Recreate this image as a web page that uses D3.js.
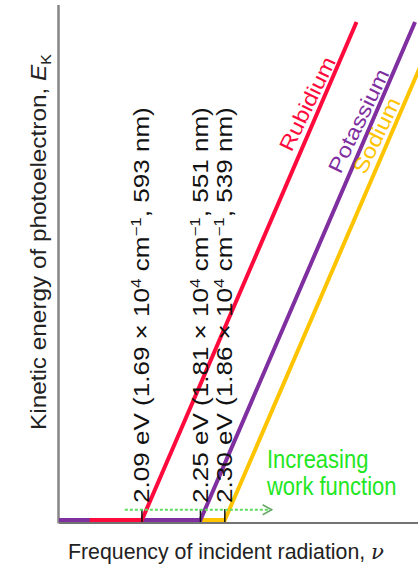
<!DOCTYPE html>
<html>
<head>
<meta charset="utf-8">
<script src="https://cdn.jsdelivr.net/npm/d3@7"></script>
<style>
  body { margin: 0; background: #fff; }
  text { font-family: "Liberation Sans", Arial, Helvetica, sans-serif; }
</style>
</head>
<body>
<svg id="chart" width="418" height="568"></svg>
<script>
// Photoelectric effect: kinetic energy of the emitted electron vs. frequency of the light
const metals = ["Rubidium", "Potassium", "Sodium"];
const workFunctionEV = [2.09, 2.25, 2.30];          // eV
const thresholdWavenumber = [1.69, 1.81, 1.86];     // 10^4 cm^-1
const thresholdNm = [593, 551, 539];                // nm
const baselineStart = [1.583, 1.52, 1.52];          // where each trace begins on the axis (10^4 cm^-1)
const topEnergy = [0.44, 0.44, 0.44];               // kinetic energy at the upper end of each line (10^4 cm^-1)
const xDomain = [1.52, 2.256];
const yDomain = [0, 0.455];
const arrowSpan = [1.655, 1.956];                   // "increasing work function" arrow, frequency units
const arrowEnergy = 0.009;

const colors = ["#ff0a3c", "#7f2f9f", "#ffc400"];

const svg = d3.select("#chart");
const W = 418, H = 568;
const plot = { left: 59, right: 418, top: 5, bottom: 520 };

const x = d3.scaleLinear().domain(xDomain).range([plot.left, plot.right]);
const y = d3.scaleLinear().domain(yDomain).range([plot.bottom, plot.top]);

// axes
svg.append("line")
  .attr("x1", plot.left).attr("x2", W)
  .attr("y1", plot.bottom + 3).attr("y2", plot.bottom + 3)
  .attr("stroke", "#444").attr("stroke-width", 1.5);
svg.append("line")
  .attr("x1", plot.left - 0.5).attr("x2", plot.left - 0.5)
  .attr("y1", plot.top).attr("y2", plot.bottom + 3.5)
  .attr("stroke", "#858585").attr("stroke-width", 2.5);

// one trace per metal: flat at zero below threshold, then slope h above it
const series = metals.map((m, i) => ({
  name: m,
  color: colors[i],
  pts: [
    [baselineStart[i], 0],
    [thresholdWavenumber[i], 0],
    [thresholdWavenumber[i] + topEnergy[i], topEnergy[i]]
  ]
}));

const line = d3.line().x(d => x(d[0])).y(d => y(d[1]));

svg.append("g").selectAll("path")
  .data(series.slice().reverse())
  .join("path")
  .attr("d", d => line(d.pts))
  .attr("fill", "none")
  .attr("stroke", d => d.color)
  .attr("stroke-width", 4)
  .attr("stroke-linejoin", "miter");

// threshold ticks
svg.append("g").selectAll("line")
  .data(thresholdWavenumber)
  .join("line")
  .attr("x1", d => x(d)).attr("x2", d => x(d))
  .attr("y1", plot.bottom - 11).attr("y2", plot.bottom + 2)
  .attr("stroke", "#111").attr("stroke-width", 1.5);

// arrow
const ay = y(arrowEnergy);
svg.append("line")
  .attr("x1", x(arrowSpan[0])).attr("x2", x(arrowSpan[1]))
  .attr("y1", ay).attr("y2", ay)
  .attr("stroke", "#5ddc5d").attr("stroke-width", 2)
  .attr("stroke-dasharray", "3,2");
svg.append("path")
  .attr("d", `M${x(arrowSpan[1]) - 9},${ay - 5} L${x(arrowSpan[1])},${ay} L${x(arrowSpan[1]) - 9},${ay + 5}`)
  .attr("fill", "none").attr("stroke", "#6aa86a").attr("stroke-width", 1.6);

const green = svg.append("text")
  .attr("transform", "translate(267,468) scale(1,1.15)")
  .attr("fill", "#22e622").attr("font-size", 22);
green.append("tspan").attr("x", 0).attr("y", 0).text("Increasing");
green.append("tspan").attr("x", 0).attr("y", 23.5).text("work function");

// rotated threshold labels
thresholdWavenumber.forEach((w, i) => {
  const t = svg.append("text")
    .attr("font-size", 21.5).attr("fill", "#111");
  t.append("tspan").text(`${workFunctionEV[i].toFixed(2)} eV (${w.toFixed(2)} × 10`);
  t.append("tspan").attr("font-size", 14).attr("dy", -8).text("4");
  t.append("tspan").attr("dy", 8).text(" cm");
  t.append("tspan").attr("font-size", 14).attr("dy", -8).text("−1");
  t.append("tspan").attr("dy", 8).text(`, ${thresholdNm[i]} nm)`);
  const len = t.node().getComputedTextLength();
  const k = 396 / len;
  t.attr("transform", `translate(${x(w) + 7.5},503) rotate(-90) scale(${k},1)`);
});

// metal names along their lines
const nameEnergy = [0.367, 0.352, 0.339];
series.forEach((s, i) => {
  const e = nameEnergy[i];
  const cx = x(thresholdWavenumber[i] + e) - 12;
  const cy = y(e);
  svg.append("text")
    .attr("font-size", 21)
    .attr("fill", s.color)
    .attr("text-anchor", "middle")
    .attr("dominant-baseline", "middle")
    .attr("transform", `translate(${cx},${cy}) rotate(-64) scale(1.15,1)`)
    .text(s.name);
});

// axis titles
const yt = svg.append("text").attr("font-size", 21.5).attr("fill", "#222");
yt.append("tspan").text("Kinetic energy of photoelectron, ");
yt.append("tspan").attr("font-style", "italic").text("E");
yt.append("tspan").attr("font-size", 14).attr("dy", 5).text("K");
const ylen = yt.node().getComputedTextLength();
yt.attr("transform", `translate(46,430) rotate(-90) scale(${376 / ylen},1)`);

const xt = svg.append("text")
  .attr("x", 68).attr("y", 559)
  .attr("font-size", 21.3).attr("fill", "#222");
xt.append("tspan").text("Frequency of incident radiation, ");
xt.append("tspan").attr("font-style", "italic").attr("font-family", "DejaVu Serif, serif").text("ν");
</script>
</body>
</html>
